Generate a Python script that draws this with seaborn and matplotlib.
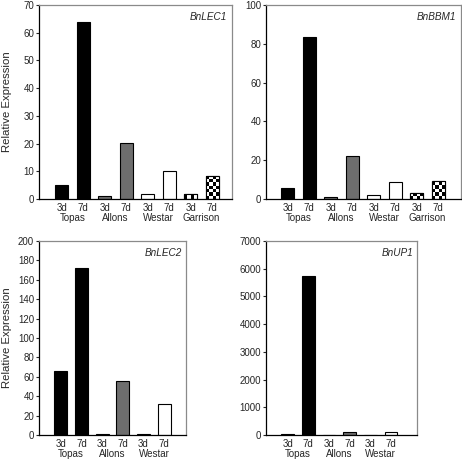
import numpy as np
import pandas as pd
import matplotlib
matplotlib.use("Agg")
import matplotlib.pyplot as plt
import seaborn as sns

sns.set_style("white")
plt.rcParams['font.family'] = ['Liberation Sans', 'DejaVu Sans']

# ---- data ----
groups4 = ["Topas", "Allons", "Westar", "Garrison"]
groups3 = ["Topas", "Allons", "Westar"]
days = ["3d", "7d"]

lec1 = [5.0, 64.0, 1.0, 20.3, 1.7, 10.2, 1.8, 8.2]
bbm1 = [5.5, 83.5, 1.0, 22.0, 2.0, 9.0, 3.0, 9.5]
lec2 = [66.0, 172.0, 1.0, 56.0, 1.5, 31.5]
up1 = [20.0, 5750.0, 10.0, 110.0, 10.0, 110.0]

genes = ["BnLEC1", "BnBBM1", "BnLEC2", "BnUP1"]
ylims = [70, 100, 200, 7000]
ysteps = [10, 20, 20, 1000]

group_colors = {"Topas": "#000000", "Allons": "#6e6e6e", "Westar": "#ffffff", "Garrison": "checker"}

fig = plt.figure(figsize=(4.62, 4.59), dpi=100)
W, H = 462, 459

def ax_rect(l, r, t, b):
    return [l / W, 1 - b / H, (r - l) / W, (b - t) / H]

rects_px = [(39, 232, 5, 199), (266, 461, 5, 199), (39, 186, 241, 435), (266, 417, 241, 435)]
xlims = [(-1.06, 7.92), (-1.01, 8.06), (-1.05, 6.05), (-1.05, 6.26)]
datasets = [(groups4, lec1), (groups4, bbm1), (groups3, lec2), (groups3, up1)]

for i, (gr, vals) in enumerate(datasets):
    l, r, t, b = rects_px[i]
    ax = fig.add_axes(ax_rect(l, r, t, b))
    labels = [f"{g} {d}" for g in gr for d in days]
    cols = []
    for g in gr:
        c = group_colors[g]
        cols += ["#ffffff" if c == "checker" else c] * 2
    df = pd.DataFrame({"bar": labels, "value": vals})
    sns.barplot(data=df, x="bar", y="value", hue="bar", palette=cols, legend=False,
                width=0.62, edgecolor="black", linewidth=0.8, ax=ax, order=labels)
    ax.set_ylim(0, ylims[i])
    ax.set_xlim(*xlims[i])
    ax.set_yticks(np.arange(0, ylims[i] + 1, ysteps[i]))
    ax.tick_params(axis="y", length=2, width=0.8, labelsize=7, pad=1.5, left=True, direction="out")
    ax.tick_params(axis="x", length=0, labelsize=7, pad=3)
    ax.set_xticks(range(len(labels)))
    ax.set_xticklabels([d for g in gr for d in days])
    ax.set_xlabel("")
    if i in (0, 2):
        ax.set_ylabel("Relative Expression", fontsize=8.2)
        ax.yaxis.set_label_coords((12 - l) / (r - l), 0.5)
    else:
        ax.set_ylabel("")
    for s in ["left", "bottom"]:
        ax.spines[s].set_color("black")
        ax.spines[s].set_linewidth(0.9)
    for s in ["top", "right"]:
        ax.spines[s].set_color("#8a8a8a")
        ax.spines[s].set_linewidth(0.9)
    for j, g in enumerate(gr):
        ax.annotate(g, xy=(2 * j + 0.5, 0), xycoords=("data", "axes fraction"),
                    xytext=(0, -10), textcoords="offset points",
                    ha="center", va="top", fontsize=7)
    ax.text(0.975, 0.965, genes[i], transform=ax.transAxes, ha="right", va="top",
            fontsize=7.2, style="italic")
    # checkerboard for Garrison bars
    if "Garrison" in gr:
        fig.canvas.draw()
        for k, p in enumerate(ax.patches):
            if k < len(labels) and labels[k].startswith("Garrison"):
                x0, y0 = p.get_x(), p.get_y()
                w, h = p.get_width(), p.get_height()
                bb = p.get_window_extent()
                sq = bb.width / 4.0
                ny = max(1, int(round(bb.height / sq)))
                board = (np.add.outer(np.arange(ny), np.arange(4)) % 2).astype(float)
                hh = ny * sq
                top = y0 + h * hh / bb.height
                im = ax.imshow(board, cmap="gray", extent=(x0, x0 + w, y0, top),
                               origin="lower", aspect="auto", interpolation="nearest",
                               zorder=p.get_zorder() + 0.1)
                im.set_clip_path(p)
                p2 = plt.Rectangle((x0, y0), w, h, fill=False, edgecolor="black",
                                   linewidth=0.8, zorder=p.get_zorder() + 0.2)
                ax.add_patch(p2)
        ax.set_xlim(*xlims[i])
        ax.set_ylim(0, ylims[i])

fig.savefig("out.png", dpi=100)
